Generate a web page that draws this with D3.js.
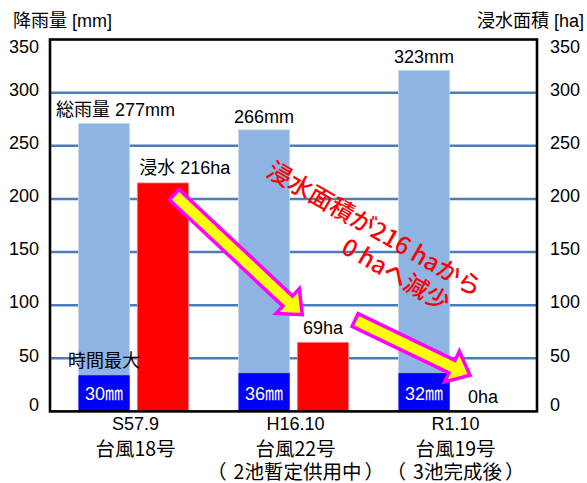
<!DOCTYPE html>
<html><head><meta charset="utf-8">
<script src="https://cdn.jsdelivr.net/npm/d3@7"></script>
<style>
body{margin:0;background:#fff}
text{font-family:"Liberation Sans",Arial,"Noto Sans CJK JP",sans-serif}
text.jp{font-family:"Noto Sans CJK JP",sans-serif}
</style>
</head><body><svg id="c" width="587" height="483"></svg>
<script>
// ---- data ----
const categories = ["S57.9", "H16.10", "R1.10"];
const typhoons = ["台風18号", "台風22号", "台風19号"];
const notes = ["", "（2池暫定供用中）", "（3池完成後）"];
const rainTotal = [271, 265, 321];            // bar heights as drawn
const rainLabels = ["総雨量 277mm", "266mm", "323mm"];
const rainHourly = [34, 36, 36];               // bar heights as drawn
const hourlyLabels = ["30㎜", "36㎜", "32㎜"];
const hourlyTitle = "時間最大";
const floodArea = [215, 65, 0];
const floodLabels = ["浸水 216ha", "69ha", "0ha"];
const yTicks = [0, 50, 100, 150, 200, 250, 300, 350];
const gridTicks = [50, 100, 150, 200, 250, 300];
const leftTitle = "降雨量 [mm]";
const rightTitle = "浸水面積 [ha]";
const noteLines = ["浸水面積が216 haから", "0 haへ減少"];
// annotation anchors in data space: [category, fraction of band, value]
const arrows = [
  {from: ["S57.9", 0.87, 204], to: ["H16.10", 0.58, 91]},
  {from: ["H16.10", 1.06, 86], to: ["R1.10", 0.65, 34]}
];
const noteAnchors = [["H16.10", 0.24, 222], ["H16.10", 0.92, 150]];

// ---- layout ----
const svg = d3.select("#c");
const L = 50, R = 537, T = 39.5, B = 411.4;
const x0 = d3.scaleBand().domain(categories).range([L, R]).paddingInner(0.3125).paddingOuter(0.178);
const x1 = d3.scaleBand().domain(["rain", "flood"]).range([0, x0.bandwidth()]).paddingInner(0.13);
const y = d3.scaleLinear().domain([0, 350]).range([B, T]);
const pt = a => [x0(a[0]) + a[1] * x0.bandwidth(), y(a[2])];

const data = categories.map((c, i) => ({c, i}));

// grid
svg.append("g").selectAll("line").data(gridTicks).join("line")
  .attr("x1", L).attr("x2", R).attr("y1", d => y(d)).attr("y2", d => y(d))
  .attr("stroke", "#4A7EBB").attr("stroke-width", 2.5);

// rain total bars
svg.append("g").selectAll("rect").data(data).join("rect")
  .attr("x", d => x0(d.c) + x1("rain")).attr("width", x1.bandwidth())
  .attr("y", d => y(rainTotal[d.i])).attr("height", d => B - y(rainTotal[d.i]))
  .attr("fill", "#8EB4E3").attr("stroke", "#C6D9F1").attr("stroke-width", 0.8);
// hourly max bars
svg.append("g").selectAll("rect").data(data).join("rect")
  .attr("x", d => x0(d.c) + x1("rain")).attr("width", x1.bandwidth())
  .attr("y", d => y(rainHourly[d.i])).attr("height", d => B - y(rainHourly[d.i]))
  .attr("fill", "#0000FF");
// flood bars
svg.append("g").selectAll("rect").data(data.filter(d => floodArea[d.i] > 0)).join("rect")
  .attr("x", d => x0(d.c) + x1("flood")).attr("width", x1.bandwidth())
  .attr("y", d => y(floodArea[d.i])).attr("height", d => B - y(floodArea[d.i]))
  .attr("fill", "#FF0000").attr("stroke", "#FF8080").attr("stroke-width", 0.8);

// frame
svg.append("rect").attr("x", L).attr("y", T).attr("width", R - L).attr("height", B - T)
  .attr("fill", "none").attr("stroke", "#000").attr("stroke-width", 2.6);

// tick labels
const tickY = v => Math.max(47, Math.min(405, y(v) - 3));
svg.append("g").selectAll("text").data(yTicks).join("text")
  .attr("x", 39).attr("y", tickY).attr("dy", "0.35em").attr("text-anchor", "end")
  .attr("font-size", 18).text(d => d);
svg.append("g").selectAll("text").data(yTicks).join("text")
  .attr("x", 550).attr("y", tickY).attr("dy", "0.35em").attr("text-anchor", "start")
  .attr("font-size", 18).text(d => d);

// axis titles
svg.append("text").attr("x", 13).attr("y", 27).attr("font-size", 18).text(leftTitle);
svg.append("text").attr("x", 584).attr("y", 27).attr("text-anchor", "end").attr("font-size", 18).text(rightTitle);

// rain labels (centred, kept inside the frame)
svg.append("g").selectAll("text").data(data).join("text")
  .attr("font-size", 18).attr("y", d => y(rainTotal[d.i]) - 7).text(d => rainLabels[d.i])
  .each(function(d) {
    const w = this.getComputedTextLength();
    const cx = x0(d.c) + x1("rain") + x1.bandwidth() / 2;
    d3.select(this).attr("x", Math.max(L + 6, cx - w / 2));
  });
// flood labels
svg.append("g").selectAll("text").data(data).join("text")
  .attr("font-size", 18).attr("y", d => y(floodArea[d.i]) - 8.5).text(d => floodLabels[d.i])
  .each(function(d) {
    const w = this.getComputedTextLength();
    const bx = x0(d.c) + x1("flood");
    const cx = bx + x1.bandwidth() / 2;
    d3.select(this).attr("x", w > x1.bandwidth() ? bx + 2 : cx - w / 2);
  });
// hourly labels
svg.append("g").selectAll("text").data(data).join("text")
  .attr("font-size", 18).attr("fill", "#fff").attr("text-anchor", "middle")
  .attr("x", d => x0(d.c) + x1("rain") + x1.bandwidth() / 2).attr("y", 400)
  .text(d => hourlyLabels[d.i]);
svg.append("text").attr("font-size", 18).attr("text-anchor", "middle")
  .attr("x", x0(categories[0]) + x1("rain") + x1.bandwidth() / 2)
  .attr("y", y(rainHourly[0]) - 8).text(hourlyTitle);

// category labels
const cat = svg.append("g").selectAll("g").data(data).join("g")
  .attr("transform", d => `translate(${x0(d.c) + x0.bandwidth() / 2 + 2},0)`);
cat.append("text").attr("y", 430).attr("text-anchor", "middle").attr("font-size", 18).text(d => d.c);
cat.append("text").attr("class", "jp").attr("y", 455.5).attr("text-anchor", "middle").attr("font-size", 19.5).text(d => typhoons[d.i]);
// notes: full-width brackets centred in their em box, as in the original font
const nt = cat.append("text").attr("class", "jp").attr("y", 478.5).attr("text-anchor", "middle").attr("font-size", 19.5);
nt.each(function(d) {
  const s = notes[d.i];
  if (!s) return;
  const t = d3.select(this);
  t.append("tspan").text(s.slice(0, 1));
  t.append("tspan").attr("dx", 7).text(s.slice(1, -1));
  t.append("tspan").attr("dx", 3).text(s.slice(-1));
});

// arrows
function arrowPath(a) {
  const [tx, ty] = pt(a.from), [px, py] = pt(a.to);
  const len = Math.hypot(px - tx, py - ty);
  const ux = (px - tx) / len, uy = (py - ty) / len, nx = -uy, ny = ux;
  const w = 7, hw = 17, hl = 20;
  const bx = px - ux * hl, by = py - uy * hl;
  const p = [[tx + nx * w, ty + ny * w], [bx + nx * w, by + ny * w], [bx + nx * hw, by + ny * hw],
    [px, py], [bx - nx * hw, by - ny * hw], [bx - nx * w, by - ny * w], [tx - nx * w, ty - ny * w]];
  return "M" + p.map(q => q.join(",")).join("L") + "Z";
}
svg.append("g").selectAll("path").data(arrows).join("path")
  .attr("d", arrowPath).attr("fill", "#FFFF00").attr("stroke", "#FF00FF")
  .attr("stroke-width", 3.5).attr("stroke-linejoin", "miter");

// rotated note
svg.append("g").selectAll("text").data(noteLines).join("text")
  .attr("class", "jp")
  .attr("transform", (d, i) => { const [a, b] = pt(noteAnchors[i]); return `translate(${a},${b}) rotate(30)`; })
  .attr("font-size", 24).attr("font-weight", 500).attr("fill", "#FF0000").text(d => d);
</script></body></html>
